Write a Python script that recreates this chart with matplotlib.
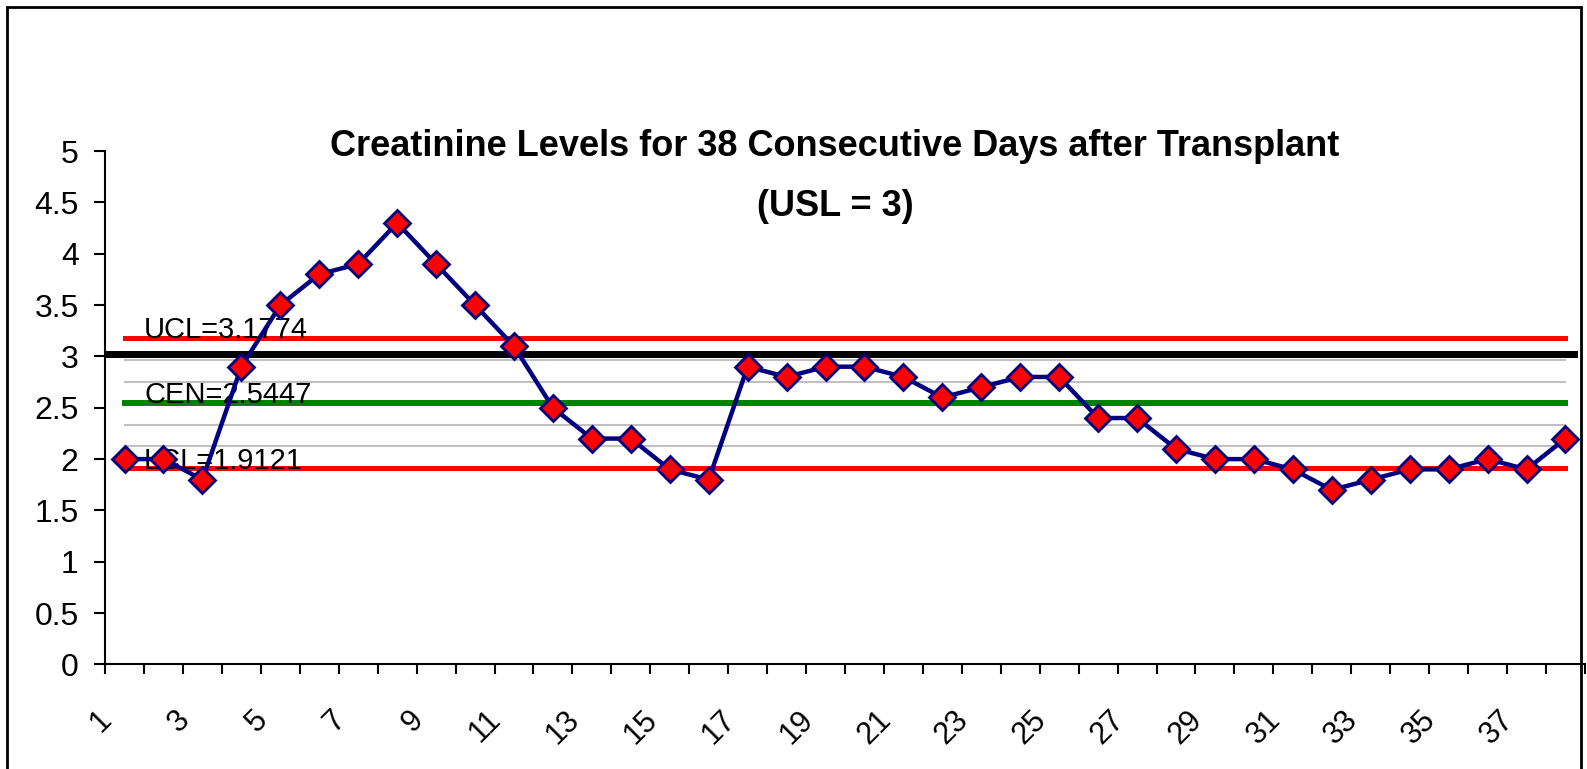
import numpy as np
import matplotlib
matplotlib.use('Agg')
import matplotlib.pyplot as plt
from matplotlib.patches import Rectangle
from matplotlib.transforms import ScaledTranslation

plt.rcParams['font.family'] = ['Liberation Sans', 'DejaVu Sans']

# Creatinine readings, one per day
days = list(range(1, 39))
creatinine = [2.0, 2.0, 1.8, 2.9, 3.5, 3.8, 3.9, 4.3, 3.9, 3.5,
              3.1, 2.5, 2.2, 2.2, 1.9, 1.8, 2.9, 2.8, 2.9, 2.9,
              2.8, 2.6, 2.7, 2.8, 2.8, 2.4, 2.4, 2.1, 2.0, 2.0,
              1.9, 1.7, 1.8, 1.9, 1.9, 2.0, 1.9, 2.2]

# Control limits
UCL = 3.1774
CEN = 2.5447
LCL = 1.9121
USL_LINE = 3.025
sigma = (UCL - CEN) / 3
zone_lines = [CEN + 2 * sigma, CEN + sigma, CEN - sigma, CEN - 2 * sigma]

y_ticks = [0, 0.5, 1, 1.5, 2, 2.5, 3, 3.5, 4, 4.5, 5]
y_ticklabels = ['0', '0.5', '1', '1.5', '2', '2.5', '3', '3.5', '4', '4.5', '5']
# labels sit on every other tick (1, 3, 5 ... 37), last tick unlabeled
x_ticklabels = [str(d) if (d % 2 == 1 and d <= 38) else '' for d in range(1, 40)]

fig = plt.figure(figsize=(15.87, 7.69), dpi=100)
ax = fig.add_axes([0.0662, 0.1359, 0.9325, 0.6677])

xs = np.array(days)
for z in zone_lines:
    ax.plot(xs, [z] * len(xs), color='#c0c0c0', lw=1.5, zorder=1)
ax.plot(xs, [UCL] * len(xs), color='#ff0000', lw=3.6, zorder=2)
ax.plot(xs, [LCL] * len(xs), color='#ff0000', lw=3.6, zorder=2)
ax.plot(xs, [CEN] * len(xs), color='#008000', lw=4.3, zorder=2)
ax.plot([0.5, 38.23], [USL_LINE, USL_LINE], color='black', lw=5, zorder=3)

ax.text(1.5, UCL + 0.08, 'UCL=3.1774', fontsize=21, va='center', ha='left', zorder=4)
ax.text(1.5, CEN + 0.08, 'CEN=2.5447', fontsize=21, va='center', ha='left', zorder=4)
ax.text(1.5, LCL + 0.07, 'LCL=1.9121', fontsize=21, va='center', ha='left', zorder=4)

ax.plot(xs, creatinine, color='#000080', lw=3.2, marker='D', ms=13,
        markerfacecolor='#ff0000', markeredgecolor='#000080', markeredgewidth=2,
        zorder=5, clip_on=False)

ax.set_xlim(0.5, 38.5)
ax.set_ylim(0, 5)
ax.set_yticks(y_ticks)
ax.set_yticklabels(y_ticklabels, fontsize=23)
ax.set_xticks(np.arange(0.5, 39.0, 1.0))
ax.set_xticklabels(x_ticklabels, fontsize=22, rotation=45, ha='right', va='top')
ax.tick_params(axis='x', length=7, width=1.5, direction='out', pad=22)
ax.tick_params(axis='y', length=8, width=1.5, direction='out', pad=11)

# nudge rotated labels to the right, as in the original
shift = ScaledTranslation(0.13, 0, fig.dpi_scale_trans)
for lbl in ax.get_xticklabels():
    lbl.set_transform(lbl.get_transform() + shift)

for s in ['top', 'right']:
    ax.spines[s].set_visible(False)
for s in ['left', 'bottom']:
    ax.spines[s].set_linewidth(1.5)

fig.text(835 / 1587, 1 - 147 / 769, 'Creatinine Levels for 38 Consecutive Days after Transplant',
         fontsize=26, fontweight='bold', ha='center', va='center')
fig.text(835 / 1587, 1 - 207 / 769, '(USL = 3)',
         fontsize=26, fontweight='bold', ha='center', va='center')

border = Rectangle((7 / 1587, -0.05), (1581 - 7) / 1587, 1.05 - 7 / 769,
                   transform=fig.transFigure, fill=False, edgecolor='black',
                   lw=2, zorder=10)
fig.add_artist(border)

fig.savefig('out.png', dpi=100, facecolor='white')
